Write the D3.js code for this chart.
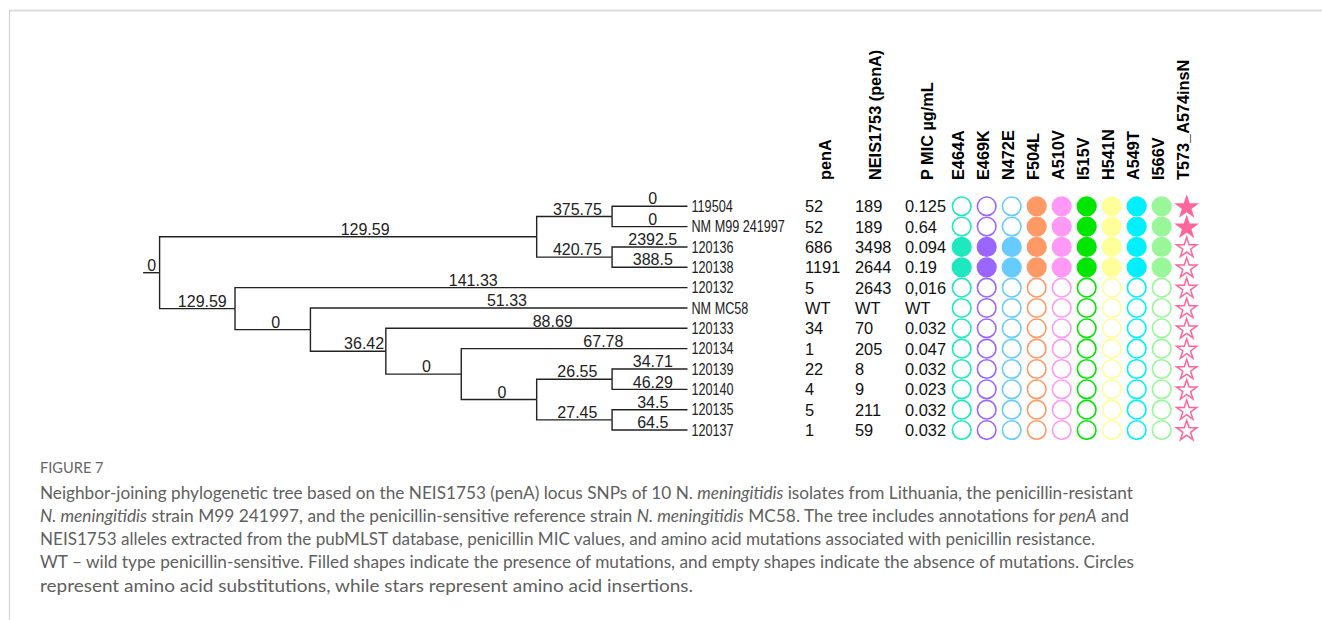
<!DOCTYPE html>
<html>
<head>
<meta charset="utf-8">
<script src="https://cdn.jsdelivr.net/npm/d3@7"></script>
<style>
  body { margin: 0; background: #fff; }
  svg { display: block; }
</style>
</head>
<body>
<script>
// tree nodes (stratify table): id, parent, branch label
var nodeIds     = ["root", "A", "B", "119504", "NM M99 241997", "C", "120136", "120138",
                   "D", "120132", "E", "NM MC58", "F", "120133", "G", "120134",
                   "J", "H", "120139", "120140", "I", "120135", "120137"];
var nodeParents = ["", "root", "A", "B", "B", "A", "C", "C",
                   "root", "D", "D", "E", "E", "F", "F", "G",
                   "G", "J", "H", "H", "J", "I", "I"];
var branchLabels = ["0", "129.59", "375.75", "0", "0", "420.75", "2392.5", "388.5",
                    "129.59", "141.33", "0", "51.33", "36.42", "88.69", "0", "67.78",
                    "0", "26.55", "34.71", "46.29", "27.45", "34.5", "64.5"];

// annotation table
var isolates = ["119504", "NM M99 241997", "120136", "120138", "120132", "NM MC58",
                "120133", "120134", "120139", "120140", "120135", "120137"];
var penA = ["52", "52", "686", "1191", "5", "WT", "34", "1", "22", "4", "5", "1"];
var neis = ["189", "189", "3498", "2644", "2643", "WT", "70", "205", "8", "9", "211", "59"];
var mic  = ["0.125", "0.64", "0.094", "0.19", "0,016", "WT", "0.032", "0.047", "0.032", "0.023", "0.032", "0.032"];
var textHeaders = ["penA", "NEIS1753 (penA)", "P MIC \u00b5g/mL"];

var mutations = ["E464A", "E469K", "N472E", "F504L", "A510V", "I515V", "H541N", "A549T", "I566V", "T573_A574insN"];
var mutationColors = ["#1ee8c0", "#9966ff", "#66ccff", "#ff9966", "#ff99f5", "#00e600", "#ffff99", "#00f0ff", "#99f799", "#ff6699"];
var mutationShapes = ["circle", "circle", "circle", "circle", "circle", "circle", "circle", "circle", "circle", "star"];
var mutationPresent = [
  [0, 0, 0, 1, 1, 1, 1, 1, 1, 1],
  [0, 0, 0, 1, 1, 1, 1, 1, 1, 1],
  [1, 1, 1, 1, 1, 1, 1, 1, 1, 0],
  [1, 1, 1, 1, 1, 1, 1, 1, 1, 0],
  [0, 0, 0, 0, 0, 0, 0, 0, 0, 0],
  [0, 0, 0, 0, 0, 0, 0, 0, 0, 0],
  [0, 0, 0, 0, 0, 0, 0, 0, 0, 0],
  [0, 0, 0, 0, 0, 0, 0, 0, 0, 0],
  [0, 0, 0, 0, 0, 0, 0, 0, 0, 0],
  [0, 0, 0, 0, 0, 0, 0, 0, 0, 0],
  [0, 0, 0, 0, 0, 0, 0, 0, 0, 0],
  [0, 0, 0, 0, 0, 0, 0, 0, 0, 0]
];

var captionTitle = "FIGURE 7";
var captionLines = [
  [["Neighbor-joining phylogenetic tree based on the NEIS1753 (penA) locus SNPs of 10 N. ", 0], ["meningitidis", 1], [" isolates from Lithuania, the penicillin-resistant", 0]],
  [["N. meningitidis", 1], [" strain M99 241997, and the penicillin-sensitive reference strain ", 0], ["N. meningitidis", 1], [" MC58. The tree includes annotations for ", 0], ["penA", 1], [" and", 0]],
  [["NEIS1753 alleles extracted from the pubMLST database, penicillin MIC values, and amino acid mutations associated with penicillin resistance.", 0]],
  [["WT \u2013 wild type penicillin-sensitive. Filled shapes indicate the presence of mutations, and empty shapes indicate the absence of mutations. Circles", 0]],
  [["represent amino acid substitutions, while stars represent amino acid insertions.", 0]]
];

var W = 1322, H = 620;
var svg = d3.select("body").append("svg").attr("width", W).attr("height", H);

// frame
svg.append("line").attr("x1", 9).attr("x2", W).attr("y1", 10.5).attr("y2", 10.5)
   .attr("stroke", "#dcdcdc").attr("stroke-width", 2);
svg.append("line").attr("x1", 9.5).attr("x2", 9.5).attr("y1", 10).attr("y2", H)
   .attr("stroke", "#cfcfcf").attr("stroke-width", 1);

// tree layout
var table = nodeIds.map(function(id, i) { return { id: id, parent: nodeParents[i], label: branchLabels[i] }; });
var root = d3.stratify().id(function(d) { return d.id; }).parentId(function(d) { return d.parent || null; })(table);
d3.cluster().size([1, 1]).separation(function() { return 1; })(root);

var xTree = d3.scaleLinear().domain([0, 1]).range([159.6, 687.5]);
var yTree = d3.scaleLinear().domain([0, 1]).range([196.1, 440.2]);

var tree = svg.append("g").attr("class", "tree");
var arial = "'Liberation Sans', Arial, sans-serif";

// the source figure nudges some branch labels off the branch middle
var labelNudge = { "A": 14, "F": 13, "120132": 9, "120133": 13, "120134": 26, "NM MC58": 5, "D": 2 };

tree.selectAll("path.link")
  .data(root.descendants().slice(1))
  .enter().append("path")
  .attr("class", "link")
  .attr("fill", "none")
  .attr("stroke", "#222")
  .attr("stroke-width", 1.4)
  .attr("d", function(d) {
    return "M" + xTree(d.parent.y) + "," + yTree(d.parent.x) +
           "V" + yTree(d.x) + "H" + xTree(d.y);
  });

// root stub
tree.append("line")
  .attr("x1", xTree(0) - 16.5).attr("x2", xTree(0))
  .attr("y1", yTree(root.x)).attr("y2", yTree(root.x))
  .attr("stroke", "#222").attr("stroke-width", 1.4);

tree.selectAll("text.blen")
  .data(root.descendants())
  .enter().append("text")
  .attr("class", "blen")
  .attr("x", function(d) {
    if (!d.parent) return xTree(0) - 8;
    return (xTree(d.parent.y) + xTree(d.y)) / 2 + 3 + (labelNudge[d.id] || 0);
  })
  .attr("y", function(d) { return yTree(d.x) - 1.8; })
  .attr("text-anchor", "middle")
  .attr("font-family", arial)
  .attr("font-size", "16px")
  .attr("fill", "#222")
  .text(function(d) { return d.data.label; });

// leaf names, condensed like a narrow face
tree.selectAll("g.leaf")
  .data(root.leaves())
  .enter().append("g")
  .attr("class", "leaf")
  .attr("transform", function(d) { return "translate(" + (xTree(1) + 4) + "," + yTree(d.x) + ") scale(0.79,1)"; })
  .append("text")
  .attr("dy", "0.35em")
  .attr("font-family", arial)
  .attr("font-size", "16px")
  .attr("fill", "#222")
  .text(function(d) { return d.id; });

// row positions from the tree leaves
var leafY = {};
root.leaves().forEach(function(d) { leafY[d.id] = yTree(d.x); });

// annotation columns
var textColX = d3.scaleOrdinal().domain(textHeaders).range([805, 855, 905]);
var mutX = d3.scalePoint().domain(mutations).range([961.7, 1186.7]);
var headerBase = 180;

var headers = svg.append("g").attr("font-family", arial).attr("font-weight", "bold").attr("font-size", "16.3px");
headers.selectAll("text.th")
  .data(textHeaders)
  .enter().append("text")
  .attr("transform", function(d, i) { return "translate(" + (textColX(d) + (i == 2 ? 22 : 20)) + "," + headerBase + ") rotate(-90)"; })
  .attr("dy", "0.35em")
  .text(function(d) { return d; });
headers.selectAll("text.mh")
  .data(mutations)
  .enter().append("text")
  .attr("transform", function(d) { return "translate(" + (mutX(d) - 3) + "," + headerBase + ") rotate(-90)"; })
  .attr("dy", "0.35em")
  .text(function(d) { return d; });

var cols = [penA, neis, mic];
var values = svg.append("g").attr("font-family", arial).attr("font-size", "16.4px").attr("fill", "#111");
isolates.forEach(function(iso, r) {
  cols.forEach(function(col, c) {
    values.append("text")
      .attr("x", textColX(textHeaders[c]))
      .attr("y", leafY[iso])
      .attr("dy", "0.36em")
      .text(col[r]);
  });
});

// mutation symbols
var star = d3.symbol().type(d3.symbolStar).size(128);
var cells = [];
isolates.forEach(function(iso, r) {
  mutations.forEach(function(m, c) {
    cells.push({ iso: iso, m: m, c: c, on: mutationPresent[r][c] });
  });
});
svg.append("g").selectAll("g.cell")
  .data(cells)
  .enter().append("g")
  .attr("transform", function(d) { return "translate(" + mutX(d.m) + "," + leafY[d.iso] + ")"; })
  .each(function(d) {
    var g = d3.select(this), col = mutationColors[d.c];
    if (mutationShapes[d.c] == "star") {
      g.append("path").attr("d", star).attr("transform", "translate(0,1)")
        .attr("fill", d.on ? col : "#fff").attr("stroke", col).attr("stroke-width", 1.5);
    } else {
      g.append("circle").attr("r", 9.3)
        .attr("fill", d.on ? col : "#fff").attr("stroke", col).attr("stroke-width", 1.6);
    }
  });

// caption
var lineWidths = [1093, 1089, 1055, 1094, 653];
var cap = svg.append("g").attr("font-family", "Lato, 'Open Sans', sans-serif").attr("fill", "#606060");
cap.append("text").attr("x", 40).attr("y", 473).attr("font-size", "14.6px").attr("fill", "#666").text(captionTitle);
var capLines = cap.selectAll("text.cl")
  .data(captionLines)
  .enter().append("text")
  .attr("class", "cl")
  .attr("x", 40)
  .attr("y", function(d, i) { return 498.5 + i * 23.3; })
  .attr("font-size", "16px");
capLines.selectAll("tspan")
  .data(function(d) { return d; })
  .enter().append("tspan")
  .attr("font-style", function(d) { return d[1] ? "italic" : "normal"; })
  .text(function(d) { return d[0]; });
// fit font size to the first line, then stretch each line to its width
var w0 = capLines.node().getComputedTextLength();
capLines.attr("font-size", (16 * lineWidths[0] / w0) + "px")
  .attr("textLength", function(d, i) { return lineWidths[i]; })
  .attr("lengthAdjust", "spacingAndGlyphs");
</script>
</body>
</html>
